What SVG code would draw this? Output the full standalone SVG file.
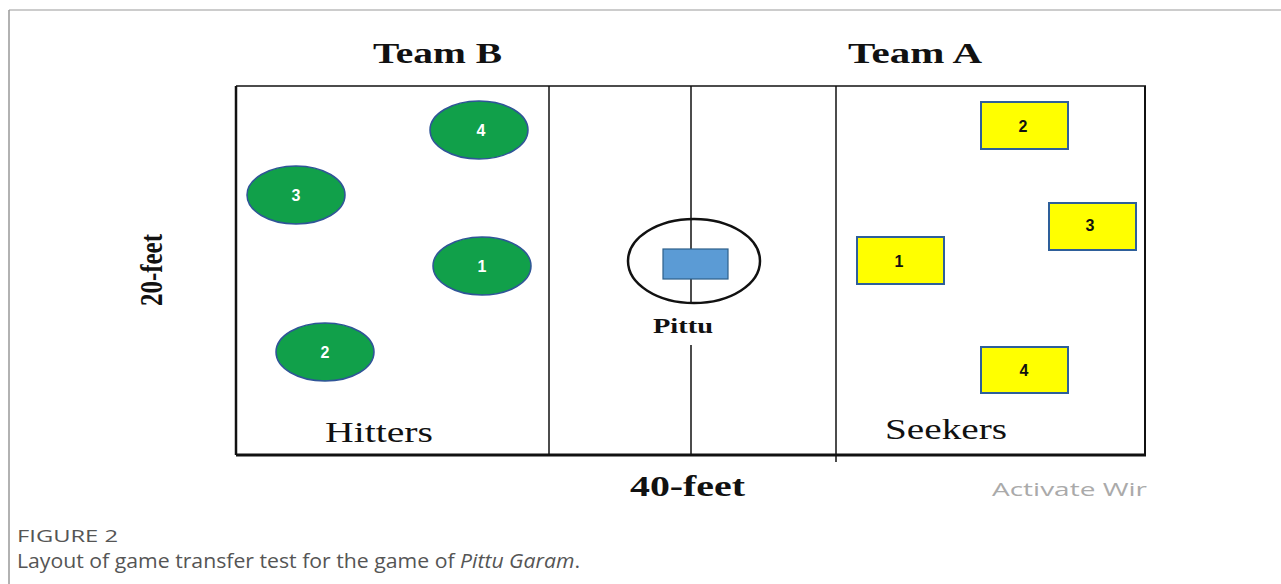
<svg xmlns="http://www.w3.org/2000/svg" width="1281" height="584" viewBox="0 0 1281 584">
<style>
.hit{fill:#11a04a;stroke:#2f5597;stroke-width:1.5}
.hn{font-family:"Liberation Sans",Arial,sans-serif;font-weight:bold;font-size:16px;fill:#ffffff;text-anchor:middle}
.seek{fill:#ffff00;stroke:#2e5f9a;stroke-width:2}
.sn{font-family:"Liberation Sans",Arial,sans-serif;font-weight:bold;font-size:16px;fill:#111;text-anchor:middle}
.ln{stroke:#111;fill:none}
.ser{font-family:"Liberation Serif","Times New Roman",serif;fill:#111}
.cap{font-family:"Open Sans","Liberation Sans",sans-serif;fill:#555}
</style>
<rect width="1281" height="584" fill="#fff"/>
<line x1="9" y1="10" x2="1281" y2="10" stroke="#cccccc" stroke-width="2"/>
<line x1="9" y1="10" x2="9" y2="584" stroke="#999" stroke-width="1.5"/>
<g id="court">
<line class="ln" x1="236" y1="86" x2="1146" y2="86" stroke-width="1.5"/>
<line class="ln" x1="236" y1="455" x2="1146" y2="455" stroke-width="3"/>
<line class="ln" x1="236" y1="86" x2="236" y2="455" stroke-width="2.5"/>
<line class="ln" x1="1145" y1="86" x2="1145" y2="455" stroke-width="2"/>
<line class="ln" x1="549" y1="86" x2="549" y2="455" stroke-width="1.5"/>
<line class="ln" x1="836" y1="86" x2="836" y2="462" stroke-width="1.5"/>
<line class="ln" x1="691" y1="86" x2="691" y2="303" stroke-width="1.5"/>
<line class="ln" x1="691" y1="345" x2="691" y2="455" stroke-width="1.5"/>
</g>
<g id="labels">
<text class="ser" x="373" y="63" font-size="29" font-weight="bold" textLength="129" lengthAdjust="spacingAndGlyphs">Team B</text>
<text class="ser" x="848" y="63" font-size="29" font-weight="bold" textLength="134" lengthAdjust="spacingAndGlyphs">Team A</text>
<text class="ser" x="325" y="442" font-size="29" textLength="108" lengthAdjust="spacingAndGlyphs">Hitters</text>
<text class="ser" x="885" y="439" font-size="29" textLength="122" lengthAdjust="spacingAndGlyphs">Seekers</text>
<text class="ser" x="630" y="496" font-size="30" font-weight="bold" textLength="115" lengthAdjust="spacingAndGlyphs">40-feet</text>
<text class="ser" transform="translate(162,270) rotate(-90)" font-size="31" font-weight="bold" text-anchor="middle" textLength="72" lengthAdjust="spacingAndGlyphs">20-feet</text>
<text class="cap" x="992" y="496" font-size="18" style="fill:#aaaaaa" textLength="155" lengthAdjust="spacingAndGlyphs">Activate Wir</text>
</g>
<g id="pittu">
<ellipse cx="694" cy="261" rx="66" ry="42" fill="none" stroke="#111" stroke-width="2.5"/>
<rect x="663" y="249" width="65" height="30" fill="#5b9bd5" stroke="#2e5f8a" stroke-width="1.2"/>
<text class="ser" x="653" y="333" font-size="20" font-weight="bold" textLength="60" lengthAdjust="spacingAndGlyphs">Pittu</text>
</g>
<g id="hitter1"><ellipse class="hit" cx="482" cy="266" rx="49" ry="29"/><text class="hn" x="482" y="272">1</text></g>
<g id="hitter2"><ellipse class="hit" cx="325" cy="352" rx="49" ry="29"/><text class="hn" x="325" y="358">2</text></g>
<g id="hitter3"><ellipse class="hit" cx="296" cy="195" rx="49" ry="29"/><text class="hn" x="296" y="201">3</text></g>
<g id="hitter4"><ellipse class="hit" cx="479" cy="130" rx="49" ry="29"/><text class="hn" x="481" y="136">4</text></g>
<g id="seeker1"><rect class="seek" x="857" y="237" width="87" height="47"/><text class="sn" x="899" y="267">1</text></g>
<g id="seeker2"><rect class="seek" x="981" y="102" width="87" height="47"/><text class="sn" x="1023" y="132">2</text></g>
<g id="seeker3"><rect class="seek" x="1049" y="203" width="87" height="47"/><text class="sn" x="1090" y="231">3</text></g>
<g id="seeker4"><rect class="seek" x="981" y="347" width="87" height="46"/><text class="sn" x="1024" y="376">4</text></g>
<g id="caption">
<text class="cap" x="17" y="542" font-size="16" textLength="101" lengthAdjust="spacingAndGlyphs">FIGURE 2</text>
<text class="cap" x="17" y="568" font-size="20" textLength="563" lengthAdjust="spacingAndGlyphs">Layout of game transfer test for the game of <tspan font-style="italic">Pittu Garam</tspan>.</text>
</g>
</svg>
